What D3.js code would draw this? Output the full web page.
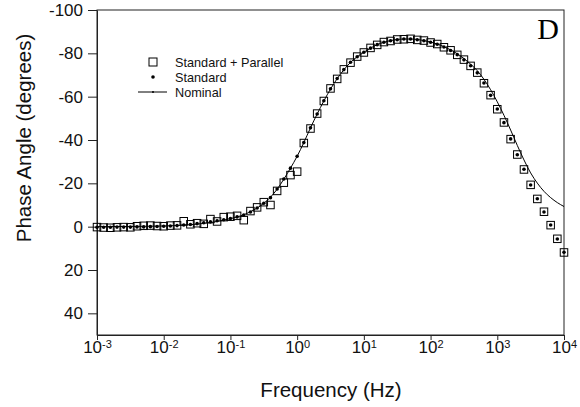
<!DOCTYPE html>
<html>
<head>
<meta charset="utf-8">
<script src="https://cdn.jsdelivr.net/npm/d3@7"></script>
<style>
  body { margin: 0; background: #fff; }
  svg { display: block; font-family: "Liberation Sans", Arial, sans-serif; }
</style>
</head>
<body>
<div id="chart"></div>
<script>
// data (phase in degrees, negative = up)

// log10 of frequency (Hz), 10 points per decade
const logFreq = [
  -3.0, -2.9, -2.8, -2.7, -2.6, -2.5, -2.4, -2.3, -2.2, -2.1,
  -2.0, -1.9, -1.8, -1.7, -1.6, -1.5, -1.4, -1.3, -1.2, -1.1,
  -1.0, -0.9, -0.8, -0.7, -0.6, -0.5, -0.4, -0.3, -0.2, -0.1,
  0.0, 0.1, 0.2, 0.3, 0.4, 0.5, 0.6, 0.7, 0.8, 0.9,
  1.0, 1.1, 1.2, 1.3, 1.4, 1.5, 1.6, 1.7, 1.8, 1.9,
  2.0, 2.1, 2.2, 2.3, 2.4, 2.5, 2.6, 2.7, 2.8, 2.9,
  3.0, 3.1, 3.2, 3.3, 3.4, 3.5, 3.6, 3.7, 3.8, 3.9,
  4.0
];

const standard = [
  0.3, 0.3, 0.3, 0.2, 0.2, 0.2, 0.1, 0.1, 0.0, -0.1,
  -0.2, -0.3, -0.5, -0.8, -1.0, -1.4, -1.8, -2.2, -2.7, -3.2,
  -3.8, -4.5, -5.4, -6.8, -8.6, -10.8, -13.4, -17.4, -22.0, -27.0,
  -32.5, -38.8, -45.6, -52.0, -58.1, -63.6, -68.4, -72.5, -75.9, -78.4,
  -80.5, -82.4, -84.0, -85.1, -85.8, -86.3, -86.6, -86.6, -86.3, -85.8,
  -85.1, -84.2, -82.9, -81.3, -79.4, -77.0, -74.3, -71.0, -66.3, -60.6,
  -54.3, -48.0, -40.5, -33.2, -26.5, -19.2, -12.9, -6.8, -0.8, 5.7,
  11.8
];

const standardParallel = [
  0.2, 0.4, 0.5, 0.3, 0.2, 0.3, -0.2, -0.4, -0.5, -0.3,
  -0.2, -0.5, -0.6, -2.5, -1.1, -1.6, -1.3, -3.5, -2.4, -4.4,
  -4.6, -5.0, -3.0, -7.2, -8.9, -11.3, -10.0, -16.5, -20.3, -23.8,
  -25.4, -38.6, -45.3, -52.2, -58.0, -63.8, -68.2, -72.6, -75.7, -78.5,
  -80.4, -82.5, -83.9, -85.2, -85.7, -86.4, -86.5, -86.7, -86.2, -85.9,
  -85.0, -84.3, -82.8, -81.4, -79.3, -77.1, -74.2, -71.1, -66.2, -60.7,
  -54.2, -48.1, -40.4, -33.3, -26.4, -19.3, -12.8, -6.9, -0.7, 5.6,
  11.9
];

const nominal = [
  -0.03, -0.04, -0.05, -0.07, -0.08, -0.1, -0.13, -0.17, -0.21, -0.26,
  -0.33, -0.42, -0.53, -0.7, -0.9, -1.2, -1.5, -1.9, -2.4, -3.0,
  -3.7, -4.5, -5.5, -6.9, -8.6, -10.8, -13.6, -17.3, -21.9, -27.0,
  -32.5, -38.8, -45.6, -52.0, -58.0, -63.5, -68.3, -72.4, -75.8, -78.4,
  -80.5, -82.4, -84.0, -85.1, -85.9, -86.4, -86.6, -86.6, -86.4, -85.9,
  -85.2, -84.3, -83.1, -81.6, -79.8, -77.6, -75.0, -72.0, -68.0, -63.2,
  -57.6, -51.4, -44.6, -37.5, -30.8, -24.8, -20.1, -16.3, -13.4, -11.1,
  -9.3
];

const xTicks = [1e-3, 1e-2, 1e-1, 1e0, 1e1, 1e2, 1e3, 1e4];
const yTicks = [-100, -80, -60, -40, -20, 0, 20, 40];
const legendLabels = ["Standard + Parallel", "Standard", "Nominal"];

const width = 580, height = 407;
const margin = {top: 10, right: 16, bottom: 72, left: 97};

const svg = d3.select("#chart").append("svg")
    .attr("width", width)
    .attr("height", height);

const x = d3.scaleLog()
    .domain([1e-3, 1e4])
    .range([margin.left, width - margin.right]);

const y = d3.scaleLinear()
    .domain([-100, 50])
    .range([margin.top, height - margin.bottom]);

const points = logFreq.map((e, i) => ({
  f: Math.pow(10, e),
  std: standard[i],
  par: standardParallel[i],
  nom: nominal[i]
}));

// frame
svg.append("rect")
    .attr("x", x.range()[0])
    .attr("y", y.range()[0])
    .attr("width", x.range()[1] - x.range()[0])
    .attr("height", y.range()[1] - y.range()[0])
    .attr("fill", "none")
    .attr("stroke", "#222")
    .attr("stroke-width", 1);

// axes
const xAxis = svg.append("g")
    .attr("transform", `translate(0,${y.range()[1]})`)
    .call(d3.axisBottom(x)
        .tickValues(xTicks)
        .tickSize(5)
        .tickSizeOuter(0)
        .tickPadding(1)
        .tickFormat(() => "10"));
xAxis.select(".domain").attr("stroke", "#222");
xAxis.selectAll(".tick line").attr("stroke", "#222");
xAxis.selectAll(".tick text")
    .attr("font-size", 17)
    .attr("fill", "#111")
    .attr("text-anchor", "middle")
    .each(function (d) {
      d3.select(this).append("tspan")
          .attr("font-size", 11)
          .attr("dy", "-0.45em")
          .text(Math.round(Math.log10(d)));
    });

const yAxis = svg.append("g")
    .attr("transform", `translate(${x.range()[0]},0)`)
    .call(d3.axisLeft(y)
        .tickValues(yTicks)
        .tickSize(9)
        .tickSizeOuter(0)
        .tickPadding(5)
        .tickFormat(d => String(d)));
yAxis.select(".domain").attr("stroke", "#222");
yAxis.selectAll(".tick line").attr("stroke", "#222");
yAxis.selectAll(".tick text")
    .attr("font-size", 17)
    .attr("fill", "#111");

// axis titles
svg.append("text")
    .attr("x", 331)
    .attr("y", 397)
    .attr("text-anchor", "middle")
    .attr("font-size", 20.5)
    .attr("fill", "#111")
    .text("Frequency (Hz)");

svg.append("text")
    .attr("transform", "translate(31,138) rotate(-90)")
    .attr("text-anchor", "middle")
    .attr("font-size", 20.5)
    .attr("fill", "#111")
    .text("Phase Angle (degrees)");

// panel letter
svg.append("text")
    .attr("x", 559)
    .attr("y", 39)
    .attr("text-anchor", "end")
    .attr("font-family", "'Liberation Serif', 'Times New Roman', serif")
    .attr("font-size", 30)
    .attr("fill", "#000")
    .text("D");

// nominal line
const line = d3.line()
    .x(d => x(d.f))
    .y(d => y(d.nom))
    .curve(d3.curveMonotoneX);

svg.append("path")
    .datum(points)
    .attr("fill", "none")
    .attr("stroke", "#000")
    .attr("stroke-width", 1)
    .attr("d", line);

// standard + parallel squares
const sq = 7.5;
svg.append("g").selectAll("rect")
    .data(points)
    .join("rect")
    .attr("x", d => x(d.f) - sq / 2)
    .attr("y", d => y(d.par) - sq / 2)
    .attr("width", sq)
    .attr("height", sq)
    .attr("fill", "none")
    .attr("stroke", "#000")
    .attr("stroke-width", 1);

// standard dots
svg.append("g").selectAll("circle")
    .data(points)
    .join("circle")
    .attr("cx", d => x(d.f))
    .attr("cy", d => y(d.std))
    .attr("r", 1.8)
    .attr("fill", "#000");

// legend
const legend = svg.append("g");
const lx = 153, ltx = 175, rows = [62, 77, 92];

legend.append("rect")
    .attr("x", lx - 4).attr("y", rows[0] - 4)
    .attr("width", 8).attr("height", 8)
    .attr("fill", "none").attr("stroke", "#000");
legend.append("circle")
    .attr("cx", lx).attr("cy", rows[1]).attr("r", 1.8)
    .attr("fill", "#000");
legend.append("line")
    .attr("x1", 138).attr("x2", 167)
    .attr("y1", rows[2]).attr("y2", rows[2])
    .attr("stroke", "#000");
legend.append("circle")
    .attr("cx", lx).attr("cy", rows[2]).attr("r", 1)
    .attr("fill", "#000");

legend.selectAll("text.lab")
    .data(legendLabels)
    .join("text")
    .attr("class", "lab")
    .attr("x", ltx)
    .attr("y", (d, i) => rows[i] + 4.5)
    .attr("font-size", 12.7)
    .attr("fill", "#111")
    .text(d => d);
</script>
</body>
</html>
